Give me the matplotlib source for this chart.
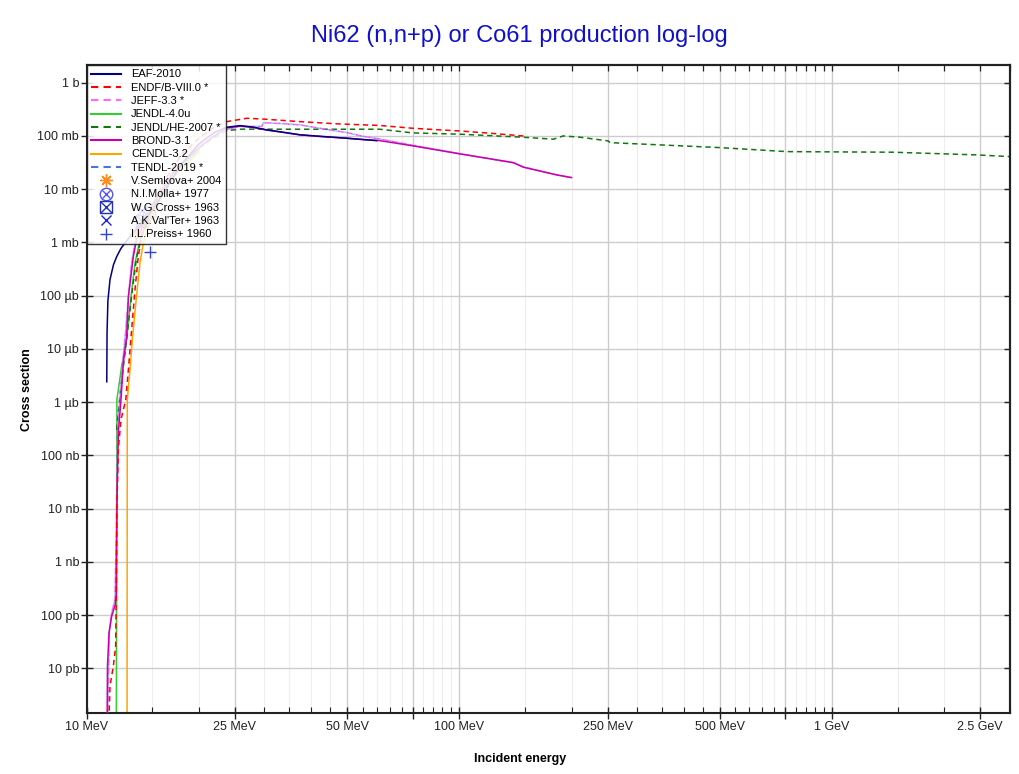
import numpy as np
import matplotlib
matplotlib.use("Agg")
import matplotlib.pyplot as plt
from matplotlib.lines import Line2D
from matplotlib.ticker import FixedLocator, FixedFormatter, NullFormatter
from matplotlib.legend_handler import HandlerTuple

plt.rcParams['font.family'] = ['Liberation Sans', 'DejaVu Sans']

# energies in MeV, cross sections in barns
eaf_e = [11.32, 11.34, 11.4, 11.55, 11.8, 12.04, 12.35, 12.67, 13.3, 14.15, 15.0, 16.0, 18.0,
         20.0, 22.0, 23.75, 25.8, 28.0, 30.4, 33.0, 37.4, 43.0, 49.8, 55.0, 60.0]
eaf_s = [2.4e-6, 2.0e-5, 8.0e-5, 2.0e-4, 3.8e-4, 5.4e-4, 7.6e-4, 9.7e-4, 1.5e-3, 2.3e-3, 4.0e-3,
         8.0e-3, 0.03, 0.07, 0.115, 0.1445, 0.155, 0.145, 0.129, 0.119, 0.104, 0.097, 0.090,
         0.085, 0.081]

endf_e = [11.35, 11.55, 11.79, 11.96, 12.0, 12.06, 12.16, 12.36, 12.73, 12.94, 13.2, 13.48,
          13.75, 14.05, 15.0, 16.5, 18.0, 20.0, 22.0, 23.75, 26.9, 30.0, 37.4, 47.3, 61.2,
          75.3, 92.3, 100.4, 120.0, 148.5]
endf_s = [1e-13, 4.7e-12, 1.1e-11, 2.6e-11, 2.0e-10, 1.5e-8, 1.3e-7, 4.7e-7, 1.1e-6, 4.1e-6,
          2.3e-5, 1.3e-4, 5.4e-4, 1.3e-3, 5e-3, 0.018, 0.045, 0.09, 0.145, 0.184, 0.213, 0.205,
          0.184, 0.167, 0.156, 0.138, 0.127, 0.123, 0.112, 0.099]

jeff_e = [11.32, 11.50, 11.67, 11.91, 12.0, 12.1, 12.28, 12.49, 12.73, 12.94, 13.2, 13.48,
          15.0, 17.0, 20.0, 22.0, 23.75, 25.8, 29.5, 29.8, 33.0, 37.4, 43.0, 49.8, 55.0,
          61.2, 75.2, 100.5, 139.7, 148.5, 182.5, 200.0]
jeff_s = [1e-13, 4.7e-11, 1.1e-10, 2.0e-10, 3.0e-9, 3.0e-7, 1.1e-6, 5.4e-6, 2.3e-5, 9.6e-5,
          4.1e-4, 9.7e-4, 5e-3, 0.02, 0.06, 0.1, 0.13, 0.15, 0.15, 0.176, 0.17, 0.16, 0.135,
          0.115, 0.098, 0.087, 0.066, 0.046, 0.031, 0.026, 0.0184, 0.0164]
tendl_e = jeff_e
tendl_s = jeff_s

jendl4_e = [12.0, 12.02, 12.05, 12.41, 12.8, 13.15, 13.48, 13.9, 15.0, 17.0, 20.0]
jendl4_s = [1e-13, 1.7e-11, 1.1e-6, 4.7e-6, 1.5e-5, 9.6e-5, 4.1e-4, 1.1e-3, 4.5e-3, 0.018, 0.055]

jendlhe_e = [12.03, 12.3, 12.8, 13.2, 13.6, 14.0, 15.0, 17.0, 19.0, 21.0, 22.8, 23.75, 26.0,
             37.4, 61.2, 75.1, 100.4, 148.5, 178.8, 190.0, 210.9, 251.0, 253.7, 500.8, 756.0,
             1009.0, 1459.0, 2447.0, 3006.0]
jendlhe_s = [3e-7, 1.5e-6, 1.5e-5, 1e-4, 5e-4, 1.2e-3, 4.5e-3, 0.018, 0.045, 0.075, 0.11, 0.125,
             0.133, 0.1326, 0.1326, 0.113, 0.107, 0.0939, 0.0861, 0.0993, 0.0939, 0.080, 0.0743,
             0.0599, 0.0504, 0.0498, 0.0491, 0.0437, 0.0406]

brond_e = [11.32, 11.37, 11.48, 11.67, 11.91, 12.0, 12.06, 12.16, 12.36, 12.54, 12.8, 12.94,
           13.34, 13.6, 15.0, 17.0, 20.0, 22.0, 23.75, 25.8, 28.0, 30.4, 33.0, 37.4, 43.0,
           49.8, 55.0, 61.2, 75.2, 100.5, 139.7, 148.5, 182.5, 200.0]
brond_s = [1e-13, 1.1e-11, 4.7e-11, 9.6e-11, 1.5e-10, 2.3e-10, 1.5e-8, 2.7e-7, 1.1e-6, 5.4e-6,
           1.7e-5, 9.6e-5, 5.4e-4, 1.1e-3, 5e-3, 0.02, 0.06, 0.1, 0.14, 0.152, 0.143, 0.128,
           0.118, 0.104, 0.096, 0.09, 0.085, 0.081, 0.0645, 0.0456, 0.0313, 0.0257, 0.0184, 0.0164]

cendl_e = [12.83, 12.85, 13.07, 13.26, 13.6, 13.9, 14.19, 15.0, 17.0, 20.0]
cendl_s = [1e-13, 1.1e-6, 4.1e-6, 1.5e-5, 9.6e-5, 4.1e-4, 9.7e-4, 3.5e-3, 0.016, 0.05]

# experimental points
semkova_e, semkova_s = [13.5, 14.1, 14.8], [1.5e-3, 2.2e-3, 3.1e-3]
molla_e, molla_s = [14.7], [3.5e-3]
cross_e, cross_s = [14.1], [2.5e-3]
valter_e, valter_s = [14.1], [4.0e-3]
preiss_e, preiss_s = [14.8], [6.7e-4]

x_major = [10, 25, 50, 75, 100, 250, 500, 750, 1000, 2500]
x_labels = ['10 MeV', '25 MeV', '50 MeV', '', '100 MeV', '250 MeV', '500 MeV', '', '1 GeV', '2.5 GeV']
y_major = [1e0, 1e-1, 1e-2, 1e-3, 1e-4, 1e-5, 1e-6, 1e-7, 1e-8, 1e-9, 1e-10, 1e-11]
y_labels = ['1 b', '100 mb', '10 mb', '1 mb', '100 µb', '10 µb', '1 µb', '100 nb', '10 nb',
            '1 nb', '100 pb', '10 pb']

fig = plt.figure(figsize=(10.2, 7.74), dpi=100)
ax = fig.add_axes([0.085, 0.0784, 0.905, 0.8376])

dash = (0, (3.5, 2.5))
lw = 1.1
series = [
    (eaf_e, eaf_s, '#000080', '-', 1.0, 3.5, 'EAF-2010'),
    (endf_e, endf_s, '#FF0000', dash, 1.0, 3.0, 'ENDF/B-VIII.0 *'),
    (jeff_e, jeff_s, '#FF66FF', dash, 1.0, 2.6, 'JEFF-3.3 *'),
    (jendl4_e, jendl4_s, '#33CC33', '-', 1.0, 2.4, 'JENDL-4.0u'),
    (jendlhe_e, jendlhe_s, '#117711', dash, 1.0, 2.5, 'JENDL/HE-2007 *'),
    (brond_e, brond_s, '#CC00AA', '-', 1.0, 2.7, 'BROND-3.1'),
    (cendl_e, cendl_s, '#FFA500', '-', 1.0, 2.3, 'CENDL-3.2'),
    (tendl_e, tendl_s, '#4477DD', (3, (3.5, 2.5)), 0.45, 2.65, 'TENDL-2019 *'),
]
handles = []
for e, s, c, ls, a, z, lab in series:
    ax.plot(e, s, color=c, lw=lw, ls=ls, alpha=a, zorder=z)
    handles.append(Line2D([], [], color=c, lw=1.5, ls=dash if ls != '-' else '-'))

h_sem, = ax.plot(semkova_e, semkova_s, ls='none', marker=(8, 2, 0), ms=9, mew=1, color='#FF8C1A')
h_mo1, = ax.plot(molla_e, molla_s, ls='none', marker='o', ms=9, mfc='none', mew=1, color='#5555EE')
h_mo2, = ax.plot(molla_e, molla_s, ls='none', marker='x', ms=6, mew=1, color='#5555EE')
h_cr1, = ax.plot(cross_e, cross_s, ls='none', marker='s', ms=9, mfc='none', mew=1, color='#2233AA')
h_cr2, = ax.plot(cross_e, cross_s, ls='none', marker='x', ms=8, mew=1, color='#2233AA')
h_val, = ax.plot(valter_e, valter_s, ls='none', marker='x', ms=7, mew=1, color='#2222CC')
h_pre, = ax.plot(preiss_e, preiss_s, ls='none', marker='+', ms=8, mew=1, color='#3344CC')

ax.set_xscale('log')
ax.set_yscale('log')
ax.set_xlim(10, 3000)
ax.set_ylim(1.43e-12, 2.13)

x_minor = [v for v in list(range(15, 100, 5)) + list(range(150, 1000, 50)) + list(range(1500, 3001, 500))
           if v not in x_major]
ax.xaxis.set_major_locator(FixedLocator(x_major))
ax.xaxis.set_major_formatter(FixedFormatter(x_labels))
ax.xaxis.set_minor_locator(FixedLocator(x_minor))
ax.xaxis.set_minor_formatter(NullFormatter())
ax.yaxis.set_major_locator(FixedLocator(y_major))
ax.yaxis.set_major_formatter(FixedFormatter(y_labels))
ax.yaxis.set_minor_locator(FixedLocator([]))

ax.grid(True, which='major', axis='x', color='#CCCCCC', lw=1.0)
ax.grid(True, which='minor', axis='x', color='#EEEEEE', lw=0.8)
ax.grid(True, which='major', axis='y', color='#CCCCCC', lw=1.0)
ax.set_axisbelow(True)

ax.tick_params(which='major', direction='inout', length=8, width=1, top=False, right=False,
               labelsize=9, pad=1.5, colors='#222222')
ax.tick_params(which='minor', direction='in', length=4, width=0.8, top=False, right=False,
               colors='#222222')

# inward ticks on top and right edges
top = ax.secondary_xaxis('top')
top.xaxis.set_major_locator(FixedLocator(x_major))
top.xaxis.set_minor_locator(FixedLocator(x_minor))
top.tick_params(which='both', direction='in', length=4, width=0.9, labeltop=False, colors='#222222')
right = ax.secondary_yaxis('right')
right.yaxis.set_major_locator(FixedLocator(y_major))
right.yaxis.set_minor_locator(FixedLocator([]))
right.tick_params(which='both', direction='in', length=4, width=1, labelright=False, colors='#222222')
for sec in (top, right):
    sec.set_zorder(4)
    for s in sec.spines.values():
        s.set_linewidth(1.5)
        s.set_color('#222222')

for s in ax.spines.values():
    s.set_linewidth(1.5)
    s.set_color('#222222')

fig.text(0.509, 0.953, 'Ni62 (n,n+p) or Co61 production log-log', color='#1010CC',
         fontsize=17, ha='center', va='center')
fig.text(0.51, 0.02, 'Incident energy', fontsize=9, fontweight='bold', ha='center', va='center')
fig.text(0.026, 0.496, 'Cross section', fontsize=9, fontweight='bold', ha='center', va='center',
         rotation=90)

handles += [h_sem, (h_mo1, h_mo2), (h_cr1, h_cr2), h_val, h_pre]
labels = [t[-1] for t in series] + ['V.Semkova+ 2004', 'N.I.Molla+ 1977', 'W.G.Cross+ 1963',
                                     "A.K.Val'Ter+ 1963", 'I.L.Preiss+ 1960']
leg = ax.legend(handles, labels, loc='upper left', fontsize=8, frameon=True, fancybox=False,
                edgecolor='#111111', framealpha=0.85, borderaxespad=0, handlelength=2.7,
                handletextpad=0.9, borderpad=0.4, labelspacing=0.3,
                handler_map={tuple: HandlerTuple(ndivide=1)})
leg.get_frame().set_linewidth(1.0)
leg.set_zorder(10)

fig.savefig('out.png', dpi=100)
